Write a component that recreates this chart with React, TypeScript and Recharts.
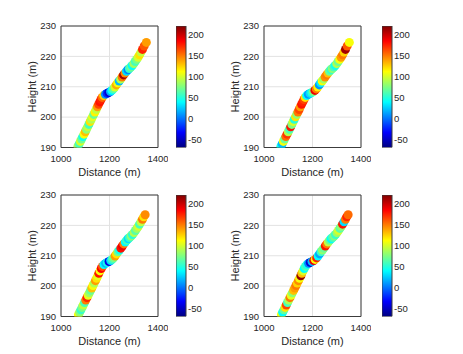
import { ScatterChart, Scatter, XAxis, YAxis, CartesianGrid, ReferenceArea, BarChart, Bar } from "recharts"

// path of the track (distance, height), upper and lower rows
const topX = [1070, 1075, 1080, 1085, 1090, 1095, 1100, 1105, 1110, 1115, 1120, 1125, 1130, 1135, 1140, 1145, 1150, 1155, 1160, 1165, 1170, 1176, 1183, 1190, 1197, 1204, 1210, 1216, 1222, 1228, 1234, 1240, 1246, 1252, 1258, 1264, 1270, 1276, 1282, 1288, 1294, 1300, 1306, 1312, 1318, 1324, 1330, 1336, 1343, 1352]
const topY = [190.4, 191.2, 192.0, 192.8, 193.6, 194.4, 195.2, 196.0, 196.8, 197.6, 198.5, 199.3, 200.1, 200.9, 201.7, 202.5, 203.4, 204.2, 205.0, 205.8, 206.5, 207.1, 207.5, 207.8, 208.1, 208.4, 208.8, 209.3, 209.9, 210.6, 211.3, 211.9, 212.5, 213.2, 213.9, 214.5, 215.1, 215.6, 216.0, 216.5, 217.0, 217.6, 218.3, 219.0, 219.7, 220.5, 221.4, 222.3, 223.4, 224.6]
const bottomX = [1072, 1077, 1082, 1087, 1092, 1097, 1102, 1107, 1112, 1117, 1122, 1127, 1132, 1137, 1142, 1147, 1152, 1156, 1161, 1166, 1171, 1177, 1184, 1191, 1198, 1205, 1211, 1217, 1223, 1229, 1235, 1241, 1247, 1253, 1259, 1265, 1271, 1277, 1283, 1289, 1295, 1301, 1307, 1313, 1319, 1324, 1330, 1336, 1341, 1347]
const bottomY = [190.6, 191.4, 192.2, 193.0, 193.8, 194.6, 195.4, 196.2, 197.0, 197.8, 198.6, 199.4, 200.2, 201.0, 201.8, 202.6, 203.4, 204.2, 205.0, 205.8, 206.5, 207.1, 207.5, 207.8, 208.1, 208.4, 208.8, 209.3, 209.9, 210.6, 211.3, 211.9, 212.5, 213.2, 213.9, 214.5, 215.1, 215.6, 216.0, 216.5, 217.0, 217.6, 218.3, 219.0, 219.7, 220.4, 221.2, 222.0, 222.8, 223.5]

// colour value of each point, one list per panel
const values1 = [85, 60, 100, 70, 45, 110, 130, 80, 95, 60, 120, 90, 105, 70, 115, 95, 140, 165, 180, 175, 155, 125, 10, -20, -45, 15, 40, 65, 100, 135, 110, 20, 90, 150, 210, 145, 30, 5, 55, 70, 40, 85, 60, 75, 100, 120, 95, 175, 160, 140]
const values2 = [45, 20, 110, 70, 155, 170, 90, 60, 180, 75, 100, 50, 120, 80, 150, 165, 140, 180, 175, 165, 120, 40, 10, 30, 50, 75, 190, 150, 115, 10, 35, 110, 85, 145, 150, 130, 70, 55, 80, 60, 45, 90, 70, 110, 140, 150, 125, 210, 160, 110]
const values3 = [110, 80, 55, 75, 95, 60, 150, 175, 105, 85, 70, 130, 110, 90, 140, 120, 105, 180, 110, 185, 160, 40, 20, 45, -40, 30, 55, 75, 140, 120, 70, 45, 180, 190, 150, 40, 60, 30, 55, 80, 50, 90, 65, 85, 100, 60, 95, 150, 120, 145]
const values4 = [110, 40, 70, 120, 165, 60, 90, 150, 105, 80, 130, 140, 150, 125, 145, 110, 215, 130, 100, 40, 60, 45, 5, -45, 20, 190, 110, 175, 40, 15, 55, 80, 70, 180, 150, 95, 70, 40, 60, 75, 55, 85, 100, 65, 80, 180, 30, 150, 175, 155]

const xTicks = [1000, 1200, 1400]
const yTicks = [190, 200, 210, 220, 230]
const cbTicks = [-50, 0, 50, 100, 150, 200]
const cMin = -69
const cMax = 221

const ink = "#262626"
const font = "'Liberation Sans', Arial, Helvetica, sans-serif"

function jet(v: number) {
  const t = Math.min(1, Math.max(0, (v - cMin) / (cMax - cMin)))
  const ch = (k: number) => Math.round(255 * Math.min(1, Math.max(0, 1.5 - Math.abs(4 * t - k))))
  return `rgb(${ch(3)},${ch(2)},${ch(1)})`
}

const W = 97
const H = 121.5

const panels = [
  { left: 60.8, top: 25.8, cb: 175.8, xs: topX, ys: topY, vals: values1 },
  { left: 264.3, top: 25.8, cb: 382.2, xs: topX, ys: topY, vals: values2 },
  { left: 60.8, top: 194.5, cb: 175.8, xs: bottomX, ys: bottomY, vals: values3 },
  { left: 264.3, top: 194.5, cb: 382.2, xs: bottomX, ys: bottomY, vals: values4 },
]

function Panel({ p, id }: { p: (typeof panels)[number]; id: number }) {
  const data = p.xs.map((x, i) => ({ x, y: p.ys[i], c: jet(p.vals[i]) }))
  const gid = `jet${id}`
  const stops = [0, 0.125, 0.375, 0.625, 0.875, 1]
  return (
    <>
      <div style={{ position: "absolute", left: p.left - 50, top: p.top - 10 }}>
        <ScatterChart width={50 + W + 10} height={10 + H + 45} margin={{ top: 10, right: 10, left: 10, bottom: 25 }}>
          <CartesianGrid stroke="#e2e2e2" />
          <XAxis
            type="number"
            dataKey="x"
            domain={[1000, 1400]}
            ticks={xTicks}
            allowDataOverflow
            height={20}
            tickLine={false}
            axisLine={false}
            tickSize={3}
            tickMargin={5}
            tick={{ fontSize: 9.5, fill: ink }}
            label={{ value: "Distance (m)", position: "bottom", offset: 1, fontSize: 11, fill: ink }}
          />
          <YAxis
            type="number"
            dataKey="y"
            domain={[190, 230]}
            ticks={yTicks}
            allowDataOverflow
            width={40}
            tickLine={false}
            axisLine={false}
            tickSize={3}
            tickMargin={2}
            tick={{ fontSize: 9.5, fill: ink }}
            label={{ value: "Height (m)", angle: -90, position: "insideLeft", offset: 11.6, fontSize: 11, fill: ink, style: { textAnchor: "middle" } }}
          />
          <Scatter
            data={data}
            isAnimationActive={false}
            shape={(s: any) => <circle cx={s.cx} cy={s.cy} r={4.5} fill={s.payload.c} />}
          />
          <ReferenceArea x1={1000} x2={1400} y1={190} y2={230} fill="none" stroke="#3c3c3c" strokeWidth={1} />
        </ScatterChart>
      </div>
      <div style={{ position: "absolute", left: p.cb, top: p.top - 10 }}>
        <BarChart width={50} height={H + 20} data={[{ n: "c", r: [cMin, cMax] }]} margin={{ top: 10, bottom: 10, left: 0, right: 0 }} barCategoryGap={0}>
          <defs>
            <linearGradient id={gid} x1="0" y1="1" x2="0" y2="0">
              {stops.map((s) => (
                <stop key={s} offset={s} stopColor={jet(cMin + s * (cMax - cMin))} />
              ))}
            </linearGradient>
          </defs>
          <XAxis dataKey="n" hide />
          <YAxis
            orientation="right"
            type="number"
            domain={[cMin, cMax]}
            ticks={cbTicks}
            allowDataOverflow
            width={40}
            tickLine={false}
            axisLine={false}
            tickSize={0}
            tickMargin={2}
            tick={{ fontSize: 9.5, fill: ink }}
          />
          <Bar dataKey="r" fill={`url(#${gid})`} stroke="#3c3c3c" strokeWidth={1} isAnimationActive={false} />
        </BarChart>
      </div>
    </>
  )
}

export default function App() {
  return (
    <div style={{ position: "absolute", left: 0, top: 0, width: 463, height: 354, background: "#fff", fontFamily: font }}>
      {panels.map((p, i) => (
        <Panel key={i} p={p} id={i} />
      ))}
    </div>
  )
}
